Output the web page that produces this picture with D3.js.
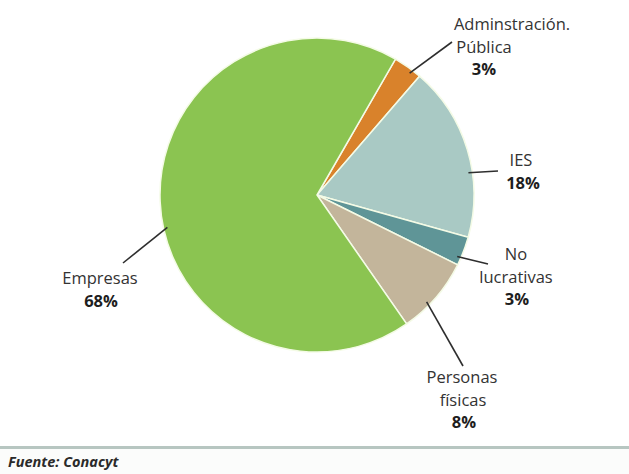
<!DOCTYPE html>
<html>
<head>
<meta charset="utf-8">
<script src="https://cdn.jsdelivr.net/npm/d3@7"></script>
<style>
  body { margin: 0; background: #fff; }
  svg { display: block; font-family: "Open Sans", sans-serif; }
</style>
</head>
<body>
<svg class="pie-chart" width="629" height="474"></svg>
<script>
// data
const categories = ["Adminstración. Pública", "IES", "No lucrativas", "Personas físicas", "Empresas"];
const values = [3, 18, 3, 8, 68];
const labelLines = [["Adminstración.", "Pública"], ["IES"], ["No", "lucrativas"], ["Personas", "físicas"], ["Empresas"]];
const colors = ["#d9822b", "#a9c9c4", "#5f9597", "#c3b59b", "#8bc451"];

const W = 629, H = 474;
const cx = 317, cy = 195, R = 157;
const startDeg = 30;

// label layout: where the leader starts inside the slice (t) and where the text sits
const labelLayout = [
  { t: 0.67, lx: 452, ly: 42, tx: [512, 484, 484], ty: 30 },
  { t: 0.63, lx: 498, ly: 171, tx: [521, 523], ty: 166 },
  { t: 0.75, lx: 488, ly: 264, tx: [516, 516, 517], ty: 260 },
  { t: 0.62, lx: 463, ly: 366, tx: [462, 463, 464], ty: 383 },
  { t: 0.46, lx: 123, ly: 263, tx: [100, 101], ty: 284 },
];
const lineH = 22.5;

const $svg = d3.select(".pie-chart");
const data = categories.map((c, i) => ({ name: c, value: values[i], lines: labelLines[i], color: colors[i], lay: labelLayout[i] }));

const pie = d3.pie()
  .value((d) => d.value)
  .sort(null)
  .startAngle((startDeg * Math.PI) / 180)
  .endAngle(((startDeg + 360) * Math.PI) / 180);
const arc = d3.arc().innerRadius(0).outerRadius(R);
const arcs = pie(data);

const $pie = $svg.append("g").attr("transform", `translate(${cx},${cy})`);
$pie.selectAll("path")
  .data(arcs)
  .enter()
  .append("path")
  .attr("d", arc)
  .attr("fill", (d) => d.data.color)
  .attr("stroke", "#f4fbe6")
  .attr("stroke-width", 1.5);

// leader lines
const leadAngle = (d) => d.startAngle + (d.endAngle - d.startAngle) * d.data.lay.t;
$svg.append("g")
  .selectAll("line")
  .data(arcs)
  .enter()
  .append("line")
  .attr("x1", (d) => cx + Math.sin(leadAngle(d)) * R * 0.975)
  .attr("y1", (d) => cy - Math.cos(leadAngle(d)) * R * 0.975)
  .attr("x2", (d) => d.data.lay.lx)
  .attr("y2", (d) => d.data.lay.ly)
  .attr("stroke", "#2e2e2e")
  .attr("stroke-width", 1.6);

// labels
const $labels = $svg.append("g").attr("font-size", 16.5).attr("text-anchor", "middle");
arcs.forEach((d) => {
  const lay = d.data.lay;
  d.data.lines.forEach((ln, i) => {
    $labels.append("text")
      .attr("x", lay.tx[i])
      .attr("y", lay.ty + i * lineH)
      .attr("fill", "#333")
      .text(ln);
  });
  const n = d.data.lines.length;
  $labels.append("text")
    .attr("x", lay.tx[n])
    .attr("y", lay.ty + n * lineH)
    .attr("font-weight", "bold")
    .attr("fill", "#1e1e1e")
    .text(d.data.value + "%");
});

// source line
$svg.append("rect").attr("x", 0).attr("y", 446).attr("width", W).attr("height", 3).attr("fill", "#b7c6c1");
$svg.append("rect").attr("x", 0).attr("y", 449).attr("width", W).attr("height", 25).attr("fill", "#fbfcfb");
$svg.append("text")
  .attr("x", 8)
  .attr("y", 467)
  .attr("font-size", 14.5)
  .attr("font-weight", "bold")
  .attr("font-style", "italic")
  .attr("fill", "#2a2a2a")
  .text("Fuente: Conacyt");
</script>
</body>
</html>
